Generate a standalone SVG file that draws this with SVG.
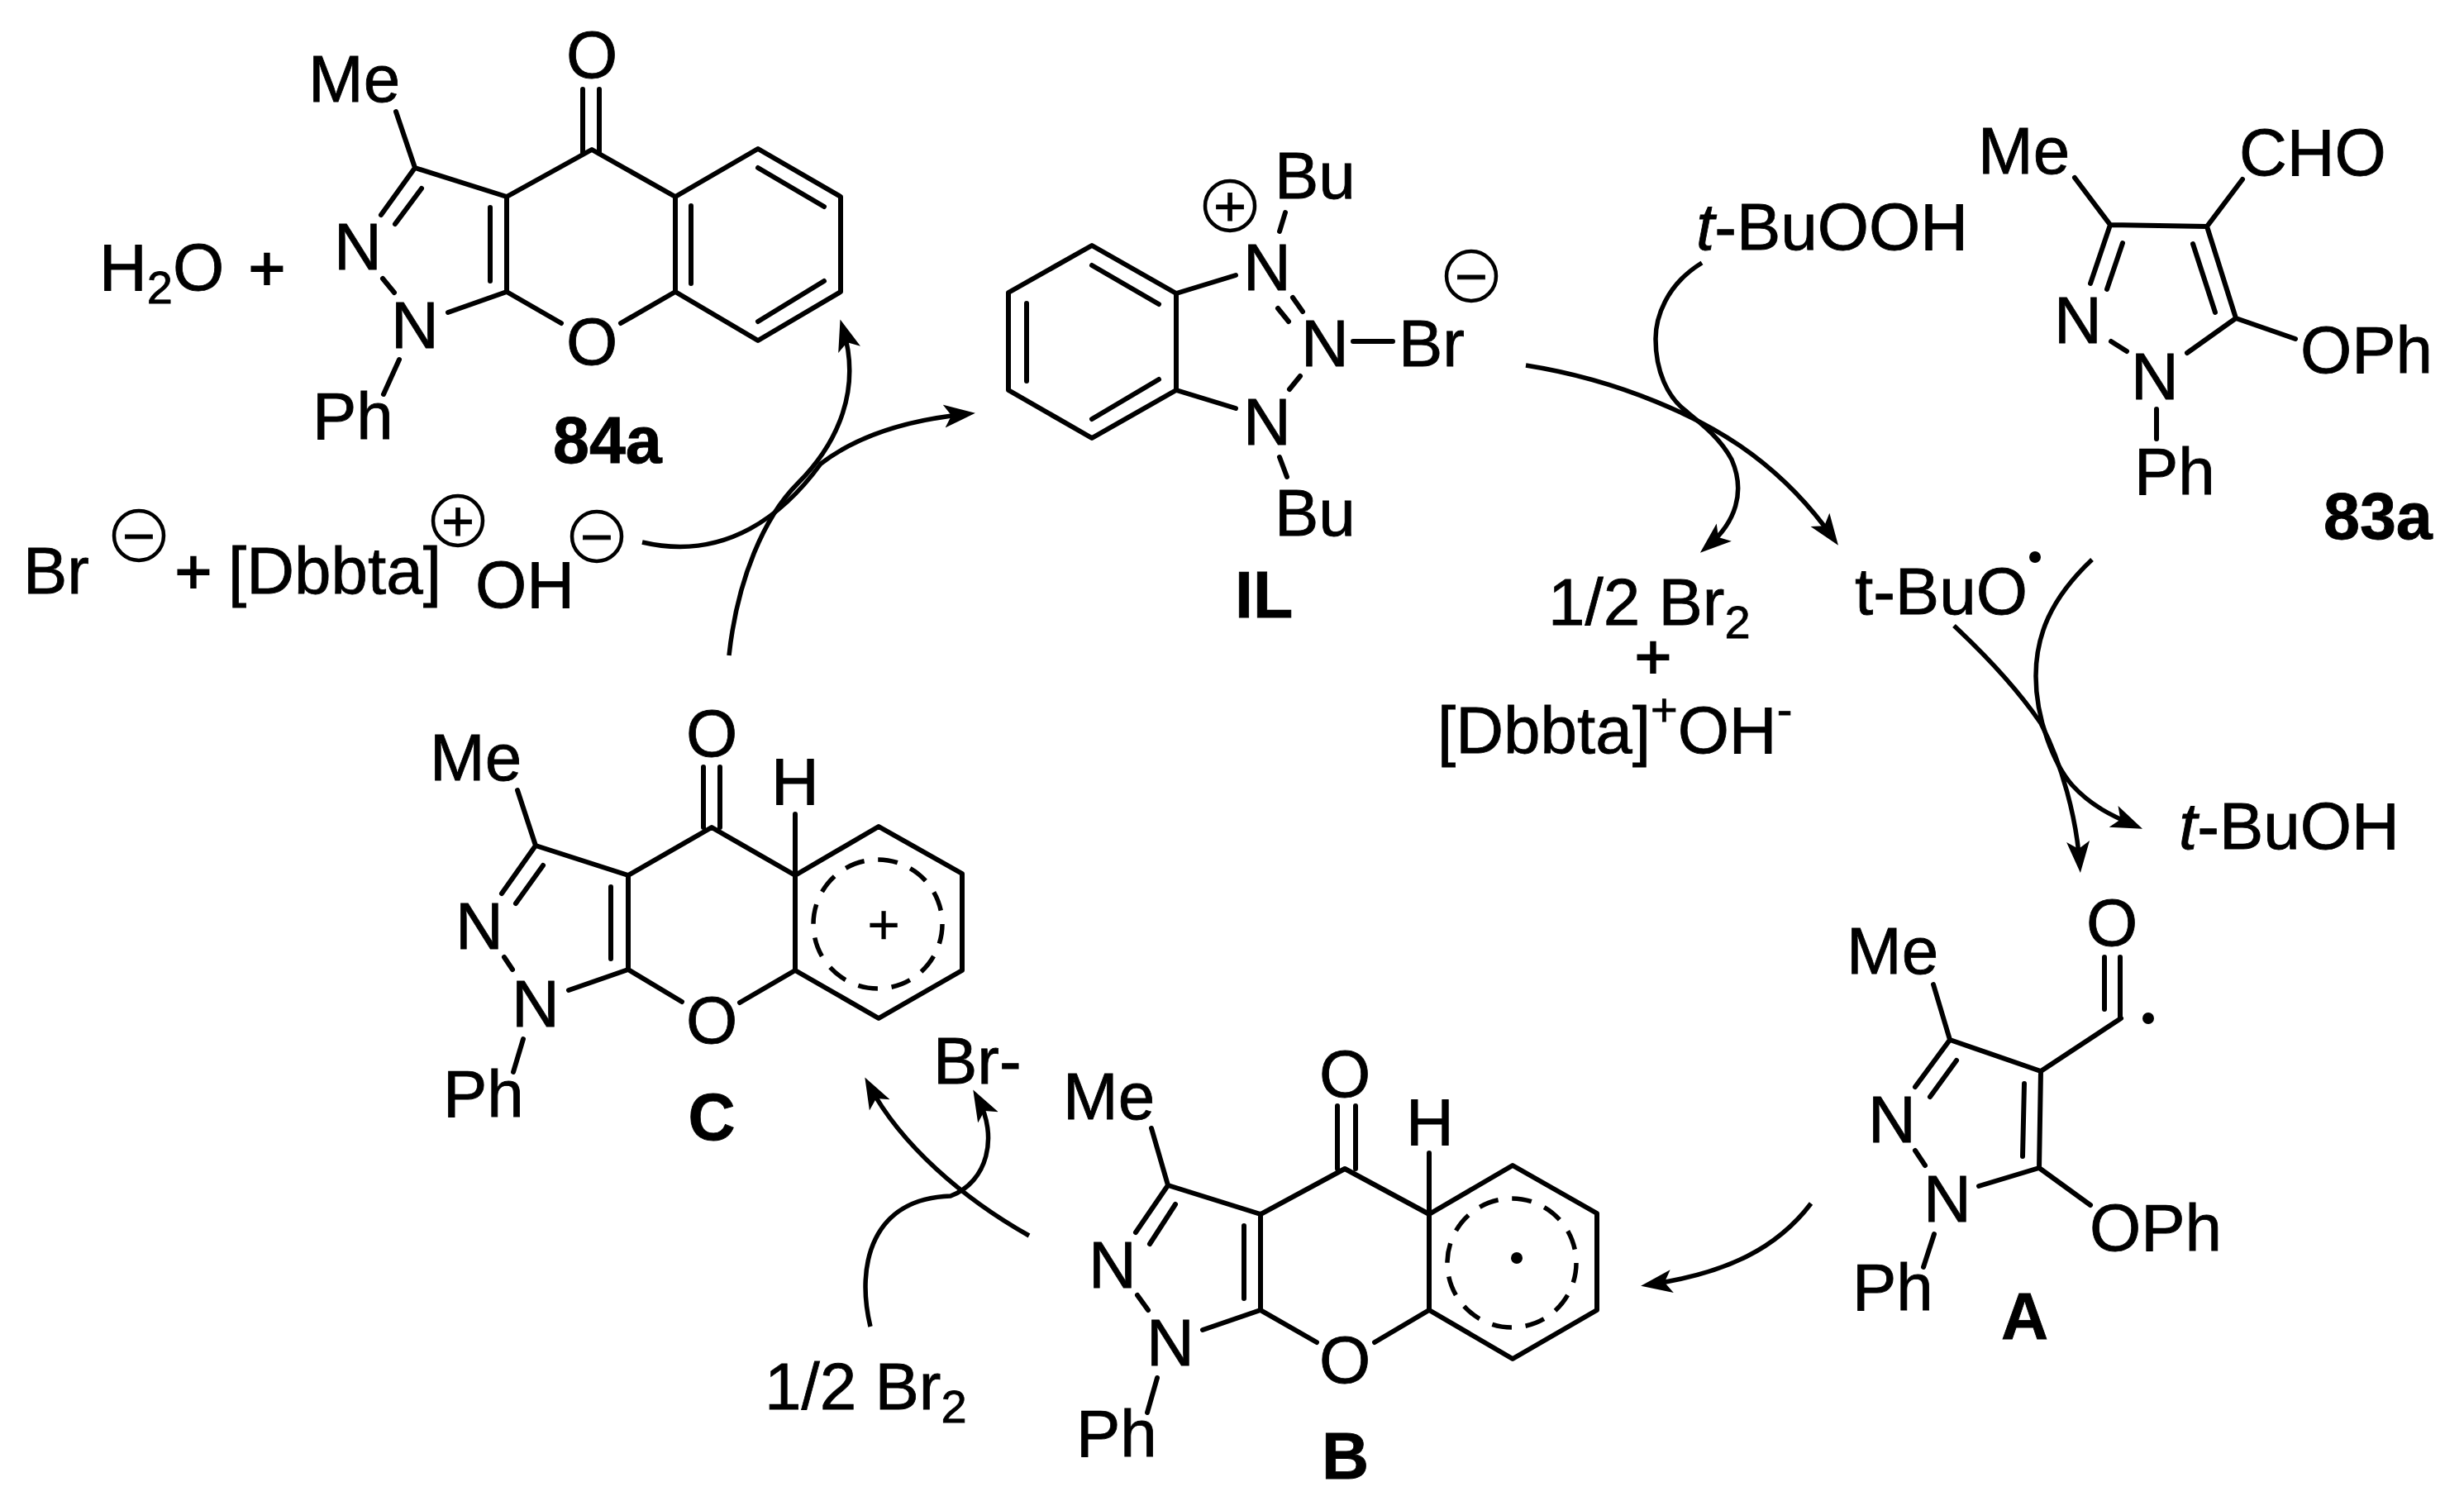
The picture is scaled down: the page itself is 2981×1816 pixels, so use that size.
<svg xmlns="http://www.w3.org/2000/svg" width="2981" height="1816" viewBox="0 0 2981 1816">
<style>
text{font-family:"Liberation Sans",Arial,sans-serif;fill:#000;stroke:#000;stroke-width:.8}
.t{font-size:80px}
.s{font-size:56px}
.l{font-size:79px;font-weight:bold}
.i{font-style:italic}
.m{text-anchor:middle}
.q{font-size:68px;text-anchor:middle}
.p{font-size:76px;text-anchor:middle;stroke-width:2}
.b{fill:none;stroke:#000;stroke-width:6;stroke-linecap:round;stroke-linejoin:round}
.c{fill:none;stroke:#000;stroke-width:4.5}
.d{fill:none;stroke:#000;stroke-width:5.5;stroke-dasharray:24 16.8}
.a{fill:none;stroke:#000;stroke-width:5.5;marker-end:url(#h)}
</style>
<defs>
<marker id="h" markerUnits="userSpaceOnUse" orient="auto" refX="26" refY="15" markerWidth="42" markerHeight="30"><path d="M38,15 L0,1 L9,15 L0,29 Z" fill="#000"/></marker>
</defs>
<rect width="2981" height="1816" fill="#fff"/>
<g id="connectors">
<path class="a" d="M777,656 C880,680 950,620 993,561 C1040,525 1100,508 1168,501"/>
<path class="a" d="M882,793 C892,700 925,625 965,585 C1015,535 1042,470 1020,398"/>
<path class="a" d="M1846,442 C1960,460 2060,505 2120,550 C2160,580 2190,612 2217,650"/>
<path class="a" d="M2059,318 C2015,345 2003,385 2003,410 C2003,450 2018,480 2038,496 C2060,514 2081,530 2095,556 C2112,595 2100,632 2066,661"/>
<path class="a" d="M2531,677 C2480,725 2463,770 2463,818 C2463,870 2485,925 2507,950 C2530,975 2555,987 2581,998"/>
<path class="a" d="M2364,757 C2410,800 2445,840 2469,875 C2495,925 2512,990 2516,1044"/>
<path class="a" d="M2191,1456 C2150,1510 2090,1540 1997,1554"/>
<path class="a" d="M1245,1495 C1165,1450 1090,1385 1052,1314"/>
<path class="a" d="M1053,1605 C1035,1530 1055,1450 1150,1447 C1195,1430 1208,1375 1183,1329"/>
</g>
<g id="mol-84a">
<path class="b" d="M479,135 L502,203 L613,238 L716,181 L817,238 L917,180 L1017,238 L1017,353 L917,412 L817,353 L751,391 M817,238 L817,353 M613,238 L613,353 L679,391 M613,353 L542,378 M502,203 L461,260 M510,228 L478,271 M463,337 L477,354 M483,435 L464,477 M705,108 L705,186 M725,108 L725,186 M836,249 L836,343 M593,251 L593,340 M917,203 L997,250 M997,340 L917,389"/>
<text class="t" x="373" y="123">Me</text>
<text class="t m" x="716" y="94">O</text>
<text class="t m" x="716" y="441">O</text>
<text class="t" x="404" y="326">N</text>
<text class="t" x="473" y="421">N</text>
<text class="t" x="378" y="531">Ph</text>
<text class="l" x="669" y="560">84a</text>
</g>
<g id="water-plus">
<text class="t" x="120" y="351">H<tspan class="s" dy="16">2</tspan><tspan dy="-16">O</tspan></text>
<text class="p" x="323" y="351">+</text>
</g>
<g id="byproducts-left">
<text class="t" x="28" y="718">Br</text>
<circle class="c" cx="168" cy="648" r="30"/><text class="q" x="168" y="672">−</text>
<text class="p" x="234" y="718">+</text>
<text class="t" x="276" y="718">[Dbbta]</text>
<circle class="c" cx="554" cy="630" r="30"/><text class="q" x="554" y="654">+</text>
<text class="t" x="575" y="735">OH</text>
<circle class="c" cx="722" cy="649" r="30"/><text class="q" x="722" y="673">−</text>
</g>
<g id="mol-IL">
<path class="b" d="M1321,297 L1423,355 L1423,472 L1321,530 L1220,472 L1220,354 Z M1321,321 L1402,368 M1402,459 L1321,507 M1242,367 L1242,461 M1423,355 L1495,333 M1423,472 L1495,494 M1555,257 L1548,280 M1564,360 L1576,377 M1546,373 L1559,389 M1573,455 L1560,471 M1637,413 L1685,413 M1548,553 L1557,577"/>
<text class="t" x="1504" y="351">N</text>
<text class="t" x="1574" y="443">N</text>
<text class="t" x="1504" y="538">N</text>
<text class="t" x="1542" y="240">Bu</text>
<text class="t" x="1542" y="648">Bu</text>
<text class="t" x="1692" y="443">Br</text>
<circle class="c" cx="1488" cy="249" r="30"/><text class="q" x="1488" y="273">+</text>
<circle class="c" cx="1780" cy="334" r="30"/><text class="q" x="1780" y="358">−</text>
<text class="l" x="1494" y="747">IL</text>
</g>
<g id="tBuOOH"><text class="t" x="2052" y="302"><tspan class="i">t</tspan>-BuOOH</text></g>
<g id="byproducts-right">
<text class="t" x="1873" y="756">1/2 Br<tspan class="s" dy="16">2</tspan></text>
<text class="p" x="2000" y="821">+</text>
<text class="t" x="1739" y="911">[Dbbta]<tspan class="s" dy="-33">+</tspan><tspan dy="33">OH</tspan><tspan class="s" dy="-33">-</tspan></text>
</g>
<g id="mol-83a">
<path class="b" d="M2510,215 L2553,272 L2670,274 L2705,385 L2646,427 M2713,217 L2670,274 M2553,272 L2529,343 M2568,294 L2549,350 M2653,295 L2680,378 M2554,413 L2573,425 M2705,385 L2777,410 M2609,495 L2609,531"/>
<text class="t" x="2393" y="210">Me</text>
<text class="t" x="2709" y="212">CHO</text>
<text class="t" x="2485" y="415">N</text>
<text class="t" x="2578" y="483">N</text>
<text class="t" x="2783" y="451">OPh</text>
<text class="t" x="2582" y="598">Ph</text>
<text class="l" x="2811" y="652">83a</text>
</g>
<g id="tBuO"><text class="t" x="2244" y="743">t-BuO</text><circle cx="2462" cy="674" r="7"/></g>
<g id="tBuOH"><text class="t" x="2636" y="1027"><tspan class="i">t</tspan>-BuOH</text></g>
<g id="mol-A">
<path class="b" d="M2339,1191 L2359,1258 L2469,1296 L2467,1413 L2394,1435 M2469,1296 L2566,1232 M2546,1158 L2546,1221 M2565,1158 L2565,1232 M2359,1258 L2317,1315 M2367,1283 L2335,1327 M2449,1311 L2447,1399 M2317,1392 L2329,1410 M2467,1413 L2529,1458 M2340,1493 L2327,1533"/>
<text class="t m" x="2555" y="1144">O</text>
<circle cx="2599" cy="1232" r="7"/>
<text class="t" x="2234" y="1178">Me</text>
<text class="t" x="2260" y="1382">N</text>
<text class="t" x="2327" y="1478">N</text>
<text class="t" x="2528" y="1513">OPh</text>
<text class="t" x="2241" y="1585">Ph</text>
<text class="l" x="2421" y="1620">A</text>
</g>
<g id="mol-B">
<path class="b" d="M1393,1365 L1413,1434 L1525,1469 L1627,1414 L1729,1469 L1830,1410 L1932,1468 L1932,1585 L1830,1644 L1729,1585 L1663,1624 M1729,1469 L1729,1585 M1525,1469 L1525,1585 L1593,1624 M1525,1585 L1455,1609 M1413,1434 L1374,1491 M1422,1457 L1391,1505 M1376,1567 L1389,1585 M1400,1667 L1388,1709 M1618,1338 L1618,1414 M1640,1338 L1640,1414 M1729,1395 L1729,1469 M1505,1483 L1505,1571"/>
<circle class="d" cx="1829" cy="1528" r="78"/>
<circle cx="1835" cy="1522" r="7"/>
<text class="t m" x="1627" y="1327">O</text>
<text class="t m" x="1627" y="1673">O</text>
<text class="t" x="1701" y="1385">H</text>
<text class="t" x="1286" y="1354">Me</text>
<text class="t" x="1317" y="1558">N</text>
<text class="t" x="1387" y="1652">N</text>
<text class="t" x="1302" y="1762">Ph</text>
<text class="l" x="1599" y="1789">B</text>
</g>
<g id="Br2-bottom"><text class="t" x="925" y="1705">1/2 Br<tspan class="s" dy="16">2</tspan></text></g>
<g id="Br-minus"><text class="t" x="1129" y="1311">Br-</text></g>
<g id="mol-C">
<path class="b" d="M626,956 L648,1023 L760,1059 L861,1001 L962,1059 L1063,1000 L1164,1057 L1164,1174 L1063,1232 L962,1174 L895,1213 M962,1059 L962,1174 M760,1059 L760,1173 L825,1212 M760,1173 L688,1198 M648,1023 L607,1081 M657,1047 L624,1093 M610,1158 L620,1173 M633,1257 L621,1297 M851,928 L851,1001 M871,928 L871,1001 M962,985 L962,1059 M739,1073 L739,1160"/>
<circle class="d" cx="1062" cy="1118" r="78"/>
<text class="q" x="1069" y="1142" style="stroke-width:.3">+</text>
<text class="t m" x="861" y="915">O</text>
<text class="t m" x="861" y="1262">O</text>
<text class="t" x="933" y="973">H</text>
<text class="t" x="520" y="944">Me</text>
<text class="t" x="551" y="1148">N</text>
<text class="t" x="619" y="1242">N</text>
<text class="t" x="536" y="1351">Ph</text>
<text class="l m" x="861" y="1379">C</text>
</g>
</svg>
